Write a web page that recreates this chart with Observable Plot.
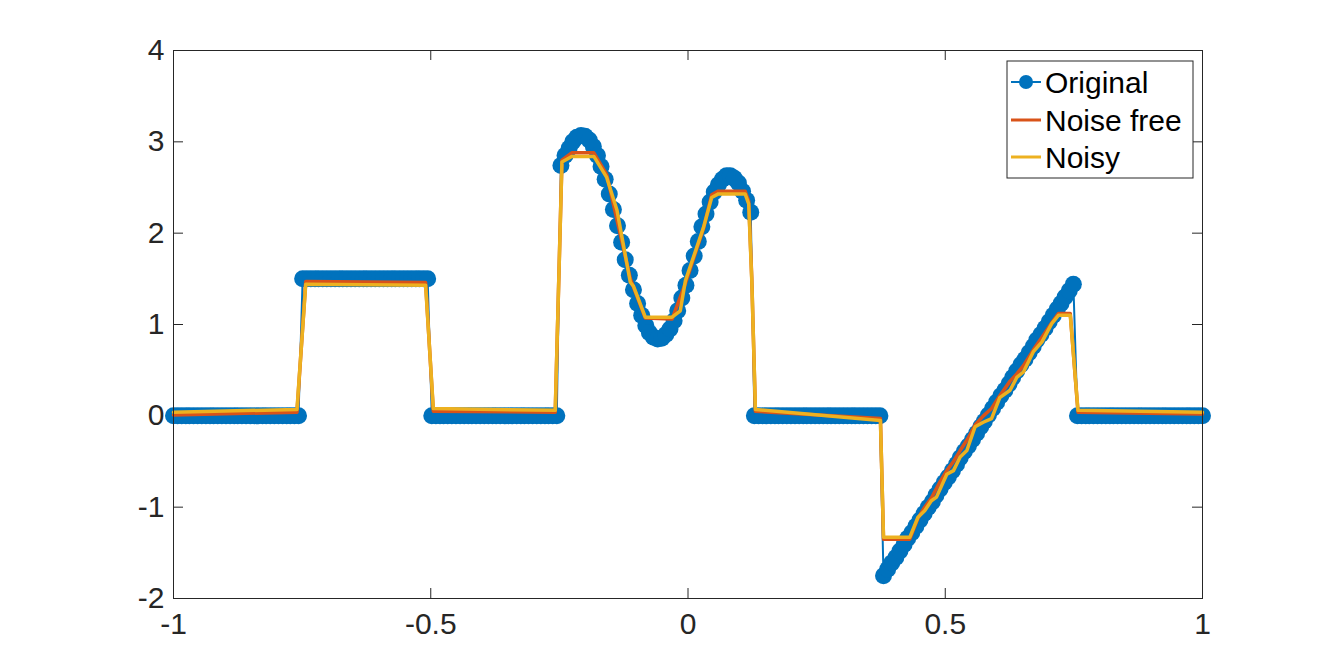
<!DOCTYPE html>
<html>
<head>
<meta charset="utf-8">
<script src="https://cdn.jsdelivr.net/npm/d3@7"></script>
<script src="https://cdn.jsdelivr.net/npm/@observablehq/plot@0.6"></script>
<style>
  html, body { margin: 0; padding: 0; background: #fff; }
  #chart { width: 1330px; height: 672px; }
</style>
</head>
<body>
<div id="chart"></div>
<script>
// ---- Data ----
const seriesNames = ["Original", "Noise free", "Noisy"];

const origX = [
  -1, -0.992, -0.984, -0.976, -0.969, -0.961, -0.953, -0.945, -0.937, -0.929, -0.922, -0.914, -0.906, -0.898, -0.890, -0.882,
  -0.875, -0.867, -0.859, -0.851, -0.843, -0.835, -0.827, -0.820, -0.812, -0.804, -0.796, -0.788, -0.780, -0.773, -0.765, -0.757,
  -0.749, -0.741, -0.733, -0.725, -0.718, -0.710, -0.702, -0.694, -0.686, -0.678, -0.671, -0.663, -0.655, -0.647, -0.639, -0.631,
  -0.624, -0.616, -0.608, -0.600, -0.592, -0.584, -0.576, -0.569, -0.561, -0.553, -0.545, -0.537, -0.529, -0.522, -0.514, -0.506,
  -0.498, -0.490, -0.482, -0.475, -0.467, -0.459, -0.451, -0.443, -0.435, -0.427, -0.420, -0.412, -0.404, -0.396, -0.388, -0.380,
  -0.373, -0.365, -0.357, -0.349, -0.341, -0.333, -0.325, -0.318, -0.310, -0.302, -0.294, -0.286, -0.278, -0.271, -0.263, -0.255,
  -0.247, -0.239, -0.231, -0.224, -0.216, -0.208, -0.200, -0.192, -0.184, -0.176, -0.169, -0.161, -0.153, -0.145, -0.137, -0.129,
  -0.122, -0.114, -0.106, -0.098, -0.090, -0.082, -0.075, -0.067, -0.059, -0.051, -0.043, -0.035, -0.027, -0.020, -0.012, -0.004,
  0.004, 0.012, 0.020, 0.027, 0.035, 0.043, 0.051, 0.059, 0.067, 0.075, 0.082, 0.090, 0.098, 0.106, 0.114, 0.122,
  0.129, 0.137, 0.145, 0.153, 0.161, 0.169, 0.176, 0.184, 0.192, 0.200, 0.208, 0.216, 0.224, 0.231, 0.239, 0.247,
  0.255, 0.263, 0.271, 0.278, 0.286, 0.294, 0.302, 0.310, 0.318, 0.325, 0.333, 0.341, 0.349, 0.357, 0.365, 0.373,
  0.380, 0.388, 0.396, 0.404, 0.412, 0.420, 0.427, 0.435, 0.443, 0.451, 0.459, 0.467, 0.475, 0.482, 0.490, 0.498,
  0.506, 0.514, 0.522, 0.529, 0.537, 0.545, 0.553, 0.561, 0.569, 0.576, 0.584, 0.592, 0.600, 0.608, 0.616, 0.624,
  0.631, 0.639, 0.647, 0.655, 0.663, 0.671, 0.678, 0.686, 0.694, 0.702, 0.710, 0.718, 0.725, 0.733, 0.741, 0.749,
  0.757, 0.765, 0.773, 0.780, 0.788, 0.796, 0.804, 0.812, 0.820, 0.827, 0.835, 0.843, 0.851, 0.859, 0.867, 0.875,
  0.882, 0.890, 0.898, 0.906, 0.914, 0.922, 0.929, 0.937, 0.945, 0.953, 0.961, 0.969, 0.976, 0.984, 0.992, 1
];
const origY = [
  0, 0, 0, 0, 0, 0, 0, 0, 0, 0, 0, 0, 0, 0, 0, 0,
  0, 0, 0, 0, 0, 0, 0, 0, 0, 0, 0, 0, 0, 0, 0, 0,
  1.5, 1.5, 1.5, 1.5, 1.5, 1.5, 1.5, 1.5, 1.5, 1.5, 1.5, 1.5, 1.5, 1.5, 1.5, 1.5,
  1.5, 1.5, 1.5, 1.5, 1.5, 1.5, 1.5, 1.5, 1.5, 1.5, 1.5, 1.5, 1.5, 1.5, 1.5, 1.5,
  0, 0, 0, 0, 0, 0, 0, 0, 0, 0, 0, 0, 0, 0, 0, 0,
  0, 0, 0, 0, 0, 0, 0, 0, 0, 0, 0, 0, 0, 0, 0, 0,
  2.74, 2.85, 2.93, 3.00, 3.05, 3.07, 3.06, 3.02, 2.95, 2.85, 2.73, 2.59, 2.43, 2.26, 2.08, 1.90,
  1.71, 1.54, 1.38, 1.23, 1.10, 0.99, 0.91, 0.86, 0.84, 0.85, 0.89, 0.95, 1.04, 1.15, 1.29, 1.43,
  1.59, 1.75, 1.91, 2.07, 2.21, 2.34, 2.45, 2.53, 2.59, 2.63, 2.63, 2.60, 2.55, 2.46, 2.36, 2.23,
  0, 0, 0, 0, 0, 0, 0, 0, 0, 0, 0, 0, 0, 0, 0, 0,
  0, 0, 0, 0, 0, 0, 0, 0, 0, 0, 0, 0, 0, 0, 0, 0,
  -1.75, -1.68, -1.61, -1.55, -1.48, -1.41, -1.34, -1.28, -1.21, -1.14, -1.07, -1.00, -0.94, -0.87, -0.80, -0.73,
  -0.67, -0.60, -0.53, -0.46, -0.39, -0.33, -0.26, -0.19, -0.12, -0.06, 0.01, 0.08, 0.15, 0.22, 0.28, 0.35,
  0.42, 0.49, 0.56, 0.62, 0.69, 0.76, 0.83, 0.89, 0.96, 1.03, 1.10, 1.17, 1.23, 1.30, 1.37, 1.44,
  0, 0, 0, 0, 0, 0, 0, 0, 0, 0, 0, 0, 0, 0, 0, 0,
  0, 0, 0, 0, 0, 0, 0, 0, 0, 0, 0, 0, 0, 0, 0, 0
];

const noiseFreeX = [-1, -0.76, -0.743, -0.51, -0.495, -0.258, -0.245, -0.226, -0.183, -0.158, -0.112, -0.083, -0.031, -0.005, 0.030, 0.046, 0.059, 0.111, 0.118, 0.124, 0.131, 0.374, 0.380, 0.431, 0.447, 0.460, 0.473, 0.490, 0.503, 0.516, 0.529, 0.545, 0.558, 0.574, 0.590, 0.606, 0.626, 0.639, 0.652, 0.671, 0.688, 0.707, 0.720, 0.743, 0.758, 1];
const noiseFreeY = [0.01, 0.04, 1.47, 1.46, 0.05, 0.04, 2.80, 2.88, 2.88, 2.64, 1.50, 1.07, 1.06, 1.45, 2.05, 2.42, 2.46, 2.46, 2.35, 1.50, 0.05, -0.03, -1.35, -1.35, -1.12, -1.00, -0.90, -0.72, -0.60, -0.50, -0.38, -0.24, -0.10, 0.00, 0.08, 0.22, 0.38, 0.46, 0.55, 0.72, 0.86, 1.02, 1.12, 1.12, 0.04, 0.02];

const noisyX = [-1, -0.76, -0.743, -0.51, -0.495, -0.258, -0.245, -0.226, -0.183, -0.158, -0.138, -0.112, -0.106, -0.083, -0.031, -0.015, -0.005, 0.030, 0.046, 0.059, 0.111, 0.118, 0.124, 0.131, 0.374, 0.380, 0.431, 0.447, 0.460, 0.473, 0.483, 0.503, 0.516, 0.529, 0.542, 0.558, 0.574, 0.590, 0.606, 0.626, 0.639, 0.652, 0.671, 0.688, 0.707, 0.720, 0.743, 0.758, 1];
const noisyY = [0.04, 0.07, 1.44, 1.43, 0.08, 0.06, 2.78, 2.84, 2.84, 2.61, 2.25, 1.46, 1.42, 1.08, 1.08, 1.15, 1.48, 2.06, 2.39, 2.43, 2.43, 2.32, 1.48, 0.07, -0.05, -1.33, -1.33, -1.11, -1.04, -0.93, -0.89, -0.64, -0.60, -0.45, -0.38, -0.12, -0.07, -0.03, 0.20, 0.28, 0.42, 0.48, 0.70, 0.81, 1.01, 1.10, 1.10, 0.06, 0.04];

const xTicks = [-1, -0.5, 0, 0.5, 1];
const xTickLabels = ["-1", "-0.5", "0", "0.5", "1"];
const yTicks = [-2, -1, 0, 1, 2, 3, 4];
const yTickLabels = ["-2", "-1", "0", "1", "2", "3", "4"];

// ---- Build tables ----
const original = origX.map((x, i) => ({x, y: origY[i]}));
const noiseFree = noiseFreeX.map((x, i) => ({x, y: noiseFreeY[i]}));
const noisy = noisyX.map((x, i) => ({x, y: noisyY[i]}));

const W = 1330, H = 672;
const mL = 173, mR = 128, mT = 50, mB = 74;
const innerW = W - mL - mR, innerH = H - mT - mB;
const axisColor = "#262626";
const font = "'Liberation Sans', Arial, Helvetica, sans-serif";
const C_BLUE = "#0072BD", C_RED = "#D95319", C_YEL = "#EDB120";
const tickLen = 10;

const chart = Plot.plot({
  width: W, height: H,
  marginLeft: mL, marginRight: mR, marginTop: mT, marginBottom: mB,
  style: {fontFamily: font, fontSize: "30px", color: axisColor, background: "#fff", overflow: "visible"},
  x: {domain: [-1, 1]},
  y: {domain: [-2, 4]},
  marks: [
    // inward ticks (box on, mirrored)
    Plot.tickX(xTicks, {x: d => d, stroke: axisColor, strokeWidth: 1, insetTop: innerH - tickLen}),
    Plot.tickX(xTicks, {x: d => d, stroke: axisColor, strokeWidth: 1, insetBottom: innerH - tickLen}),
    Plot.tickY(yTicks, {y: d => d, stroke: axisColor, strokeWidth: 1, insetRight: innerW - tickLen}),
    Plot.tickY(yTicks, {y: d => d, stroke: axisColor, strokeWidth: 1, insetLeft: innerW - tickLen}),
    Plot.axisX(xTicks, {anchor: "bottom", tickSize: 0, tickPadding: 14, fontSize: 30,
      tickFormat: d => xTickLabels[xTicks.indexOf(d)], label: null}),
    Plot.axisY(yTicks, {anchor: "left", tickSize: 0, tickPadding: 9, fontSize: 30,
      tickFormat: d => yTickLabels[yTicks.indexOf(d)], label: null}),
    // series
    Plot.line(original, {x: "x", y: "y", stroke: C_BLUE, strokeWidth: 2}),
    Plot.dot(original, {x: "x", y: "y", r: 8.5, fill: C_BLUE, stroke: "none"}),
    Plot.line(noiseFree, {x: "x", y: "y", stroke: C_RED, strokeWidth: 3.5}),
    Plot.line(noisy, {x: "x", y: "y", stroke: C_YEL, strokeWidth: 3.5}),
    Plot.frame({stroke: axisColor, strokeWidth: 1})
  ]
});

document.getElementById("chart").appendChild(chart);

// ---- Legend (inside the axes, top right) ----
const svg = d3.select(chart);
const lg = svg.append("g").attr("font-family", font).attr("text-anchor", "start");
const lx = 1007, ly = 61, lw = 186, lh = 117;
lg.append("rect").attr("x", lx).attr("y", ly).attr("width", lw).attr("height", lh)
  .attr("fill", "#fff").attr("stroke", axisColor).attr("stroke-width", 1);
const rows = [82, 120, 157];
const colors = [C_BLUE, C_RED, C_YEL];
seriesNames.forEach((name, i) => {
  const yy = rows[i];
  lg.append("line").attr("x1", lx + 4).attr("x2", lx + 34).attr("y1", yy).attr("y2", yy)
    .attr("stroke", colors[i]).attr("stroke-width", i === 0 ? 2 : 3);
  if (i === 0) lg.append("circle").attr("cx", lx + 19).attr("cy", yy).attr("r", 7).attr("fill", C_BLUE);
  lg.append("text").attr("x", lx + 38).attr("y", yy).attr("dy", "0.36em")
    .attr("text-anchor", "start").attr("font-size", 30).attr("fill", "#000").text(name);
});
</script>
</body>
</html>
